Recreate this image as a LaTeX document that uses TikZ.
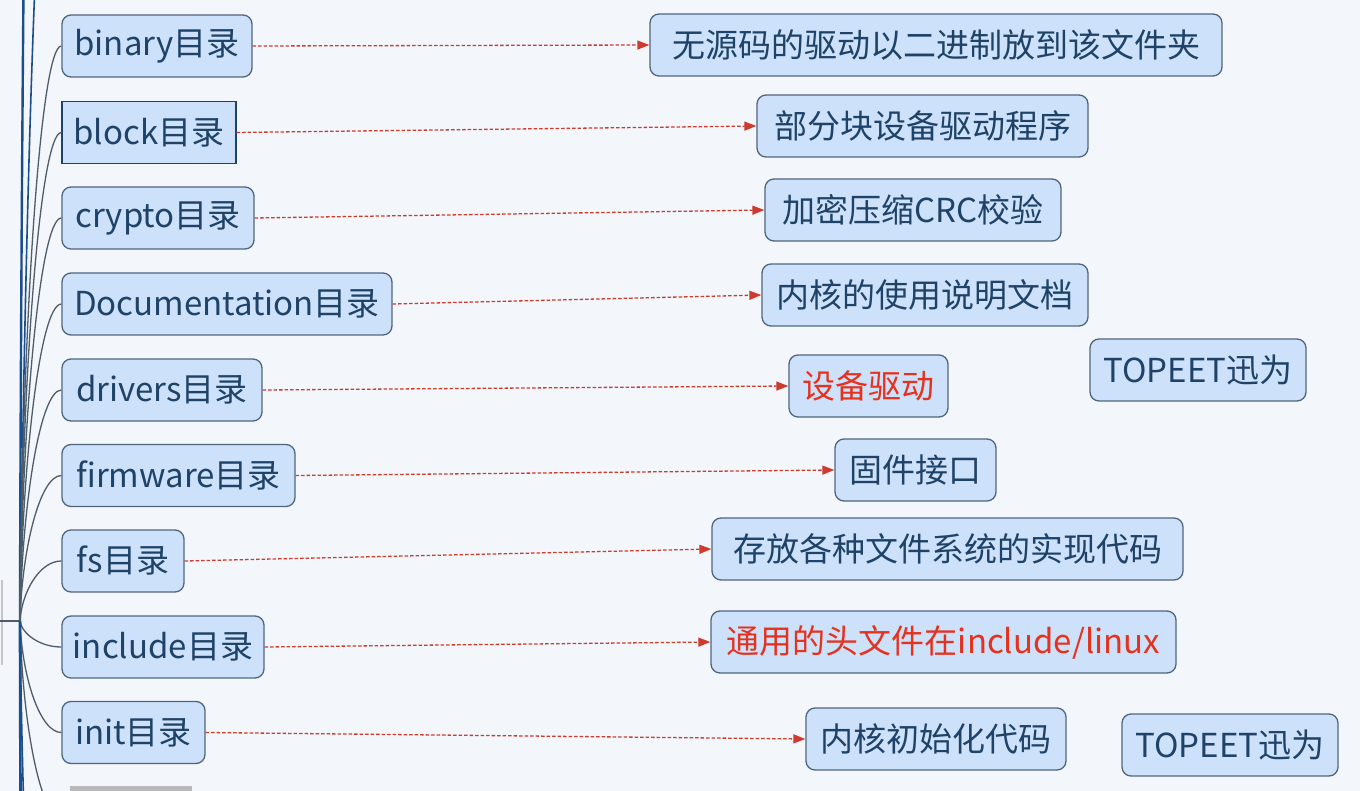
\documentclass[tikz,border=0pt]{standalone}
\usepackage{fontspec}
\setmainfont{Noto Sans CJK SC}
\usetikzlibrary{arrows.meta}
\definecolor{bg}{HTML}{F3F6FA}
\definecolor{boxfill}{HTML}{CEE1FA}
\definecolor{boxline}{HTML}{50657E}
\definecolor{txt}{HTML}{1F4368}
\definecolor{redtxt}{HTML}{E5321E}
\definecolor{arr}{HTML}{CC3B2E}
\definecolor{branchc}{HTML}{4F5D6B}
\definecolor{bundle}{HTML}{1B4E8C}
\tikzset{
  dirbox/.style={draw=boxline, line width=1.3pt, fill=boxfill, rounded corners=9pt,
    minimum height=62pt, text=txt, font=\fontsize{33}{39}\selectfont, inner sep=3pt},
  sqbox/.style={dirbox, rounded corners=0pt, draw=txt},
  redbox/.style={dirbox, text=redtxt},
  link/.style={draw=arr, line width=1.3pt, dash pattern=on 3.5pt off 2pt,
    -{Triangle[length=12pt,width=9pt]}},
  branch/.style={draw=branchc, line width=1.3pt},
  bundleline/.style={draw=bundle, line width=1.6pt},
}
\begin{document}
\begin{tikzpicture}[x=1pt,y=-1pt]
\useasboundingbox (0,0) rectangle (1360,791);
\clip (0,0) rectangle (1360,791);
\fill[bg] (0,0) rectangle (1360,791);

% root
\coordinate (root) at (20,621);
\coordinate (rootedge) at (0,621);
\draw[gray!45, line width=1.6pt] (2,580) -- (2,665);
\draw[branch] (rootedge) -- (root);

% left nodes
\node[dirbox, minimum width=190pt] (L1) at (157,46) {binary目录};
\node[sqbox,  minimum width=174pt] (L2) at (149,132.5) {block目录};
\node[dirbox, minimum width=192pt] (L3) at (158,218) {crypto目录};
\node[dirbox, minimum width=330pt] (L4) at (227,304) {Documentation目录};
\node[dirbox, minimum width=200pt] (L5) at (162,390) {drivers目录};
\node[dirbox, minimum width=233pt] (L6) at (178.5,475.5) {firmware目录};
\node[dirbox, minimum width=122pt] (L7) at (123,561) {fs目录};
\node[dirbox, minimum width=202pt] (L8) at (163,647) {include目录};
\node[dirbox, minimum width=143pt] (L9) at (133.5,732.5) {init目录};
\fill[gray!55] (70,786) rectangle (192,795);

% right nodes
\node[dirbox, minimum width=572pt] (R1) at (936,45) {无源码的驱动以二进制放到该文件夹};
\node[dirbox, minimum width=331pt] (R2) at (922.5,126) {部分块设备驱动程序};
\node[dirbox, minimum width=296pt] (R3) at (913,210) {加密压缩CRC校验};
\node[dirbox, minimum width=326pt] (R4) at (925,295) {内核的使用说明文档};
\node[redbox, minimum width=159pt] (R5) at (868.5,386) {设备驱动};
\node[dirbox, minimum width=161pt] (R6) at (915.5,470) {固件接口};
\node[dirbox, minimum width=471pt] (R7) at (947.5,549) {存放各种文件系统的实现代码};
\node[redbox, minimum width=465pt] (R8) at (943.5,642) {通用的头文件在include/linux};
\node[dirbox, minimum width=260pt] (R9) at (936,739) {内核初始化代码};
\node[dirbox, minimum width=216pt] (T1) at (1198,370) {TOPEET迅为};
\node[dirbox, minimum width=216pt] (T2) at (1230,745) {TOPEET迅为};

% off-screen branch ends
\coordinate (up1) at (62,-300);
\coordinate (up2) at (62,-1500);
\coordinate (dn1) at (62,819);
\coordinate (dn2) at (62,1700);
\coordinate (dn3) at (62,1200);

% branches
\draw[bundleline] (root) .. controls (26,150) and (40,-300) .. (up1);
\draw[bundleline, line width=2.4pt] (root) .. controls (22,-300) and (40,-1500) .. (up2);
\draw[branch] (root) .. controls (22,333.5) and (40,46) .. (L1.west);
\draw[branch] (root) .. controls (22,376.5) and (40,132.5) .. (L2.west);
\draw[branch] (root) .. controls (22,419.5) and (40,218) .. (L3.west);
\draw[branch] (root) .. controls (22,462.5) and (40,304) .. (L4.west);
\draw[branch] (root) .. controls (22,505.5) and (40,390) .. (L5.west);
\draw[branch] (root) .. controls (22,548.5) and (40,475.5) .. (L6.west);
\draw[branch] (root) .. controls (22,591) and (40,561) .. (L7.west);
\draw[branch] (root) .. controls (22,634) and (40,647) .. (L8.west);
\draw[branch] (root) .. controls (22,677) and (40,732.5) .. (L9.west);
\draw[branch] (root) .. controls (22,720) and (40,819) .. (dn1);
\draw[bundleline, line width=2.6pt] (root) .. controls (21,1400) and (40,1700) .. (dn2);
\draw[bundleline] (root) .. controls (24,950) and (40,1200) .. (dn3);

% links
\draw[link] (L1.east) -- (R1.west);
\draw[link] (L2.east) -- (R2.west);
\draw[link] (L3.east) -- (R3.west);
\draw[link] (L4.east) -- (R4.west);
\draw[link] (L5.east) -- (R5.west);
\draw[link] (L6.east) -- (R6.west);
\draw[link] (L7.east) -- (R7.west);
\draw[link] (L8.east) -- (R8.west);
\draw[link] (L9.east) -- (R9.west);
\end{tikzpicture}
\end{document}
